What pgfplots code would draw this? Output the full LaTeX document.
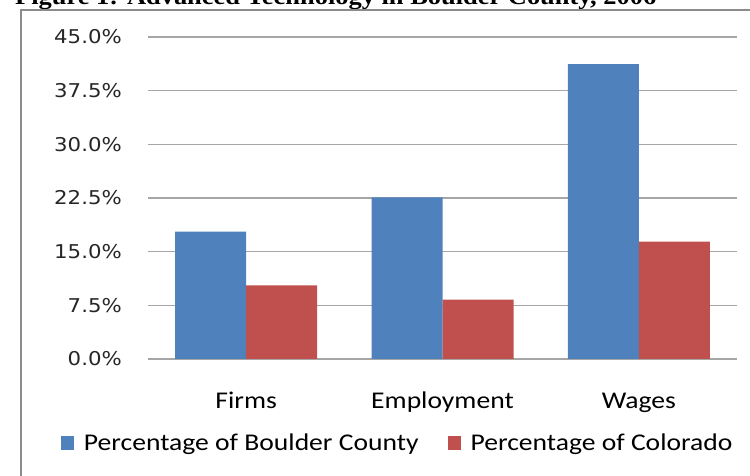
\documentclass[border=0pt]{standalone}
\usepackage{pgfplots}
\pgfplotsset{compat=1.18}
\usepackage{fontspec}
\setmainfont{Carlito}[FakeStretch=1.15]
\newfontfamily\tickfont{DejaVu Sans}[FakeStretch=1.12]
\newfontfamily\titlefont{Liberation Serif}[FakeStretch=1.12]
\definecolor{cblue}{HTML}{4F81BD}
\definecolor{cred}{HTML}{C0504D}
\definecolor{gridc}{HTML}{A6A6A6}
\definecolor{framec}{HTML}{8C8C8C}
\begin{document}
\begin{tikzpicture}[x=1pt,y=1pt]
\useasboundingbox (0,0) rectangle (750,476);
\begin{scope}
\clip (0,0) rectangle (750,476);
\node[anchor=base west, inner sep=0pt] at (15,471) {\titlefont\fontsize{23.6}{28}\selectfont\bfseries Figure 1: Advanced Technology in Boulder County, 2006};
\draw[line width=2pt, color=framec] (21,-5) -- (21,466) -- (760,466);
\end{scope}
\begin{axis}[
  at={(148pt,117pt)}, anchor=south west,
  scale only axis, width=589pt, height=322pt,
  ybar=0pt, bar width=71pt,
  ymin=0, ymax=45, ytick={0,7.5,...,45},
  xmin=-0.5, xmax=2.5, xtick={0,1,2},
  xticklabels={Firms,Employment,Wages},
  axis line style={draw=none},
  major tick length=0pt,
  ymajorgrids, grid style={gridc, line width=1.3pt},
  /pgf/number format/assume math mode=true,
  yticklabel={\pgfmathprintnumber[fixed,fixed zerofill,precision=1]{\tick}\%},
  yticklabel style={font=\tickfont\fontsize{19}{22}\selectfont, text=black!85, inner sep=0pt, xshift=-26pt, anchor=east},
  xticklabel style={font=\fontsize{24}{28}\selectfont, text=black, inner sep=0pt, anchor=base, yshift=-50pt},
  legend style={at={(0.424,-0.261)}, anchor=center, draw=none, fill=none,
    legend columns=2, font=\fontsize{24}{28}\selectfont,
    /tikz/every odd column/.append style={column sep=8pt},
    /tikz/every even column/.append style={column sep=27pt}},
  legimg/.style={legend image code/.code={\fill[##1] (0pt,-7pt) rectangle (13pt,7pt);}},
]
\addplot[fill=cblue, draw=none, legimg] coordinates {(0,17.8) (1,22.6) (2,41.2)};
\addplot[fill=cred, draw=none, legimg] coordinates {(0,10.3) (1,8.3) (2,16.4)};
\legend{Percentage of Boulder County, Percentage of Colorado}
\end{axis}
\end{tikzpicture}
\end{document}
